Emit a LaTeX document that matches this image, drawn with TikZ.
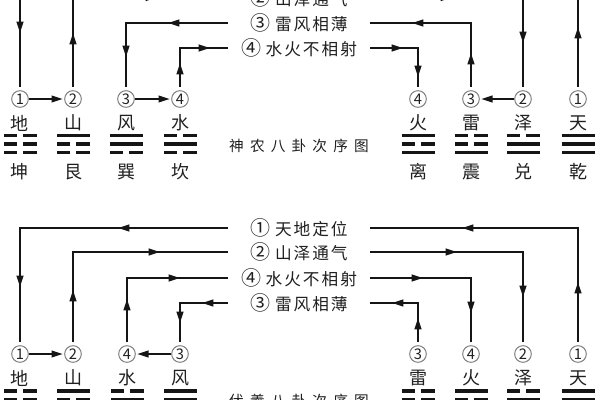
\documentclass[tikz,border=0pt]{standalone}
\usepackage{fontspec}
\setmainfont{Noto Sans CJK SC}
\newfontfamily\labfont[LetterSpace=12]{Noto Sans CJK SC}
\newfontfamily\ttlfont[LetterSpace=42]{Noto Sans CJK SC}
\usetikzlibrary{arrows.meta}
\definecolor{ink}{HTML}{151515}
\definecolor{txt}{HTML}{202020}
\definecolor{ring}{HTML}{808080}
\tikzset{
  ln/.style={draw=ink,line width=1.4pt,shorten >=2.5pt,shorten <=2.5pt},
  tipd/.style={-{Triangle[length=8.5pt,width=5pt]}},
  cn/.style={circle,draw=ring,line width=0.75pt,minimum size=12.5pt,inner sep=0pt,
    font=\fontsize{11}{11}\selectfont,text=txt},
  lbl/.style={minimum width=106.5pt,inner sep=0pt,text=txt,
    font=\labfont\fontsize{12.5}{13}\selectfont},
  gua/.style={text=txt,font=\fontsize{13.5}{13.5}\selectfont,inner sep=0pt},
  ttl/.style={text=txt,font=\ttlfont\fontsize{11}{11}\selectfont,inner sep=0pt}
}
\newcommand\cnum[1]{{\fontsize{15}{15}\selectfont #1}\hspace{3.5pt}}
\newcommand\ah[2]{\draw[ink,line width=1.4pt,tipd] #1 -- #2;}
\newcommand\yao[3]{%
  \ifnum#3=1
    \fill[ink] ({#1-16.5},{#2-1.7}) rectangle ({#1+16.5},{#2+1.7});
  \else
    \fill[ink] ({#1-16.5},{#2-1.7}) rectangle ({#1-3},{#2+1.7});
    \fill[ink] ({#1+3},{#2-1.7}) rectangle ({#1+16.5},{#2+1.7});
  \fi}
\newcommand\trig[5]{\yao{#1}{#2}{#3}\yao{#1}{#2+8.5}{#4}\yao{#1}{#2+17}{#5}}
\begin{document}
\begin{tikzpicture}[x=0.75pt,y=-0.75pt]
\useasboundingbox (0,0) rectangle (600,400);
\fill[white] (0,0) rectangle (600,400);
\clip (0,0) rectangle (600,400);

% ---------------- top: 神农八卦次序图 ----------------
\node[lbl] (a1) at (299,-27) {\cnum{①}天地定位};
\node[lbl] (a2) at (299,-2.5) {\cnum{②}山泽通气};
\node[lbl] (a3) at (299,23) {\cnum{③}雷风相薄};
\node[lbl] (a4) at (299,48) {\cnum{④}水火不相射};

\node[cn] (t1) at (20,99) {1};
\node[cn] (t2) at (73,99) {2};
\node[cn] (t3) at (126,99) {3};
\node[cn] (t4) at (180,99) {4};
\node[cn] (t5) at (418,99) {4};
\node[cn] (t6) at (471,99) {3};
\node[cn] (t7) at (523,99) {2};
\node[cn] (t8) at (578,99) {1};

\draw[ln,shorten <=0pt] (a1.west) -| (t1);
\draw[ln,shorten >=0pt] (t2) |- (a2.west);
\draw[ln,shorten <=0pt] (a3.west) -| (t3);
\draw[ln,shorten >=0pt] (t4) |- (a4.west);
\draw[ln,shorten <=0pt] (a4.east) -| (t5);
\draw[ln,shorten >=0pt] (t6) |- (a3.east);
\draw[ln,shorten <=0pt] (a2.east) -| (t7);
\draw[ln,shorten >=0pt] (t8) |- (a1.east);

\ah{(20,20)}{(20,33)}
\ah{(73,46)}{(73,33)}
\ah{(73,-2.5)}{(157,-2.5)}
\ah{(190,23)}{(168,23)}
\ah{(126,40)}{(126,57)}
\ah{(180,76)}{(180,63)}
\ah{(190,48)}{(210,48)}
\ah{(385,48)}{(403,48)}
\ah{(418,60)}{(418,77)}
\ah{(471,70)}{(471,53)}
\ah{(440,23)}{(412,23)}
\ah{(420,-2.5)}{(452,-2.5)}
\ah{(523,30)}{(523,43)}
\ah{(578,45)}{(578,27)}

\draw[ink,line width=1.4pt,tipd,shorten >=1pt] (t1) -- (t2);
\draw[ink,line width=1.4pt,tipd,shorten >=1pt] (t3) -- (t4);
\draw[ink,line width=1.4pt,tipd,shorten >=1pt] (t7) -- (t6);

\node[gua] (g1) at (20,123) {地};
\node[gua] (g2) at (73,123) {山};
\node[gua] (g3) at (126,123) {风};
\node[gua] (g4) at (180,123) {水};
\node[gua] (g5) at (418,123) {火};
\node[gua] (g6) at (471,123) {雷};
\node[gua] (g7) at (523,123) {泽};
\node[gua] (g8) at (578,123) {天};

\trig{20}{135.5}{0}{0}{0}
\trig{73}{135.5}{1}{0}{0}
\trig{126}{135.5}{1}{1}{0}
\trig{180}{135.5}{0}{1}{0}
\trig{418}{135.5}{1}{0}{1}
\trig{471}{135.5}{0}{0}{1}
\trig{523}{135.5}{0}{1}{1}
\trig{578}{135.5}{1}{1}{1}

\node[gua] (n1) at (20,172) {坤};
\node[gua] (n2) at (73,172) {艮};
\node[gua] (n3) at (126,172) {巽};
\node[gua] (n4) at (180,172) {坎};
\node[gua] (n5) at (418,172) {离};
\node[gua] (n6) at (471,172) {震};
\node[gua] (n7) at (523,172) {兑};
\node[gua] (n8) at (578,172) {乾};

\node[ttl] (title1) at (299,146) {神农八卦次序图};

% ---------------- bottom: 伏羲八卦次序图 ----------------
\node[lbl] (b1) at (299,228) {\cnum{①}天地定位};
\node[lbl] (b2) at (299,252) {\cnum{②}山泽通气};
\node[lbl] (b4) at (299,278) {\cnum{④}水火不相射};
\node[lbl] (b3) at (299,303) {\cnum{③}雷风相薄};

\node[cn] (u1) at (20,354) {1};
\node[cn] (u2) at (73,354) {2};
\node[cn] (u3) at (127,354) {4};
\node[cn] (u4) at (180,354) {3};
\node[cn] (u5) at (418,354) {3};
\node[cn] (u6) at (471,354) {4};
\node[cn] (u7) at (523,354) {2};
\node[cn] (u8) at (578,354) {1};

\draw[ln,shorten <=0pt] (b1.west) -| (u1);
\draw[ln,shorten >=0pt] (u2) |- (b2.west);
\draw[ln,shorten >=0pt] (u3) |- (b4.west);
\draw[ln,shorten <=0pt] (b3.west) -| (u4);
\draw[ln,shorten >=0pt] (u8) |- (b1.east);
\draw[ln,shorten <=0pt] (b2.east) -| (u7);
\draw[ln,shorten <=0pt] (b4.east) -| (u6);
\draw[ln,shorten >=0pt] (u5) |- (b3.east);

\ah{(140,228)}{(118,228)}
\ah{(20,270)}{(20,287)}
\ah{(73,305)}{(73,290)}
\ah{(140,252)}{(160,252)}
\ah{(127,315)}{(127,299)}
\ah{(160,278)}{(180,278)}
\ah{(220,303)}{(202,303)}
\ah{(180,308)}{(180,323)}
\ah{(578,300)}{(578,282)}
\ah{(480,228)}{(462,228)}
\ah{(440,252)}{(457,252)}
\ah{(523,280)}{(523,297)}
\ah{(405,278)}{(423,278)}
\ah{(471,296)}{(471,313)}
\ah{(418,335)}{(418,318)}
\ah{(410,303)}{(392,303)}

\draw[ink,line width=1.4pt,tipd,shorten >=1pt] (u1) -- (u2);
\draw[ink,line width=1.4pt,tipd,shorten >=1pt] (u4) -- (u3);

\node[gua] (h1) at (20,378) {地};
\node[gua] (h2) at (73,378) {山};
\node[gua] (h3) at (127,378) {水};
\node[gua] (h4) at (180,378) {风};
\node[gua] (h5) at (418,378) {雷};
\node[gua] (h6) at (471,378) {火};
\node[gua] (h7) at (523,378) {泽};
\node[gua] (h8) at (578,378) {天};

\trig{20}{391}{0}{0}{0}
\trig{73}{391}{1}{0}{0}
\trig{127}{391}{0}{1}{0}
\trig{180}{391}{1}{1}{0}
\trig{418}{391}{0}{0}{1}
\trig{471}{391}{1}{0}{1}
\trig{523}{391}{0}{1}{1}
\trig{578}{391}{1}{1}{1}

\node[ttl] (title2) at (299,401) {伏羲八卦次序图};
\end{tikzpicture}
\end{document}
